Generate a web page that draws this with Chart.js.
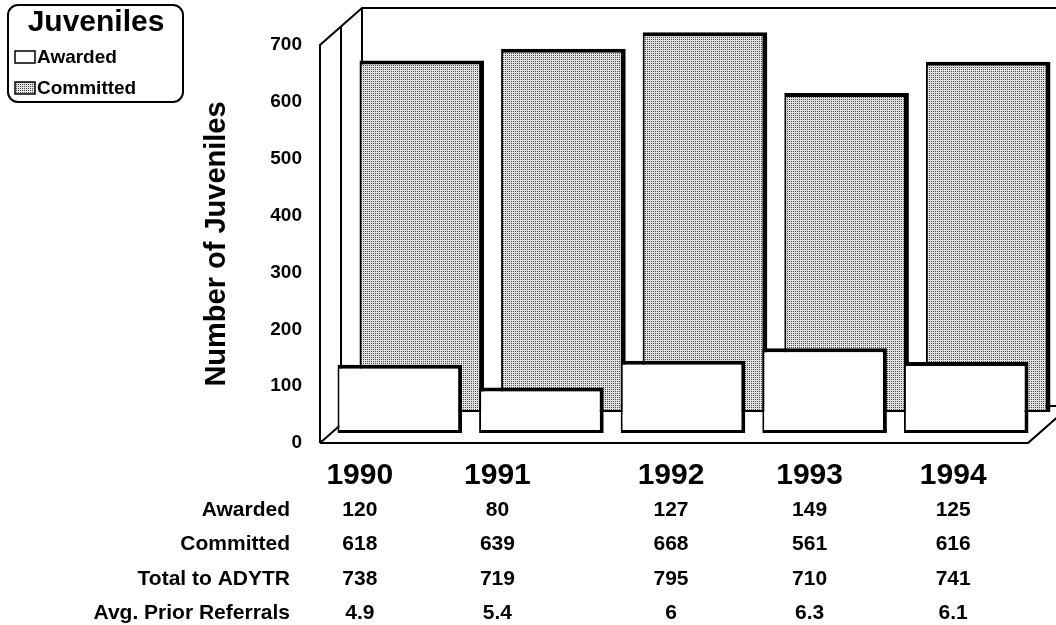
<!DOCTYPE html>
<html lang="en">
<head>
    <meta charset="UTF-8">
    <title>Juveniles Awarded and Committed</title>
    <script src="https://cdn.jsdelivr.net/npm/chart.js"></script>
    <style>
        body {
            margin: 0;
            padding: 0;
            background: #fff;
        }
        .wrap {
            width: 1056px;
            height: 625px;
        }
    </style>
</head>
<body>

    <div class="wrap">
        <canvas id="juvChart" width="1056" height="625"></canvas>
    </div>

    <script>
        const years = ['1990', '1991', '1992', '1993', '1994'];
        const awarded = [120, 80, 127, 149, 125];
        const committed = [618, 639, 668, 561, 616];
        const totalToADYTR = [738, 719, 795, 710, 741];
        const avgPriorReferrals = ['4.9', '5.4', '6', '6.3', '6.1'];
        const rowLabels = ['Awarded', 'Committed', 'Total to ADYTR', 'Avg. Prior Referrals'];

        // layout bits (not data)
        const planeShift = [[9, -10], [31, -31]];   // awarded row, committed row (fake depth)
        const wallDepth = [42, -37];
        const colNudge = [-31, -35, -3, -6, -4];
        const FONT = "'Liberation Sans', Arial, sans-serif";

        Chart.defaults.font.family = FONT;
        Chart.defaults.color = '#000';

        const canvas = document.getElementById('juvChart');
        const ctx = canvas.getContext('2d');

        // dotted grey fill like the printed original
        function stipple() {
            const c = document.createElement('canvas');
            c.width = 2;
            c.height = 2;
            const g = c.getContext('2d');
            g.fillStyle = '#e2e2e2';
            g.fillRect(0, 0, 2, 2);
            g.fillStyle = '#4a4a4a';
            g.fillRect(0, 0, 1, 1);
            return ctx.createPattern(c, 'repeat');
        }
        const dots = stipple();

        // shift each series to its own depth plane
        const depthShift = {
            id: 'depthShift',
            beforeDatasetDraw(chart, args) {
                const s = planeShift[args.index];
                chart.ctx.save();
                chart.ctx.translate(s[0], s[1]);
            },
            afterDatasetDraw(chart) {
                chart.ctx.restore();
            }
        };

        // the 3d box: back wall, side wall, floor
        const frame = {
            id: 'frame',
            beforeDatasetsDraw(chart) {
                const c = chart.ctx;
                const x = chart.scales.x, y = chart.scales.y;
                const L = x.left, R = x.right;
                const B = y.getPixelForValue(0), T = y.getPixelForValue(700);
                const dx = wallDepth[0], dy = wallDepth[1];
                c.save();
                c.strokeStyle = '#000';
                c.lineWidth = 2;
                c.beginPath();
                c.moveTo(L, B); c.lineTo(L, T);
                c.lineTo(L + dx, T + dy);
                c.lineTo(chart.width, T + dy);
                c.moveTo(L + dx, T + dy); c.lineTo(L + dx, B + dy);
                c.lineTo(R + dx, B + dy);
                c.moveTo(L, B); c.lineTo(L + dx, B + dy);
                c.moveTo(L, B); c.lineTo(R, B); c.lineTo(R + dx, B + dy);
                c.moveTo(L + dx / 2, T + dy / 2); c.lineTo(L + dx / 2, B + dy / 2);
                c.stroke();
                c.restore();
            }
        };

        // legend box and data table
        const extras = {
            id: 'extras',
            afterDraw(chart) {
                const c = chart.ctx;
                const x = chart.scales.x;
                const ds = chart.data.datasets;
                c.save();
                c.fillStyle = '#000';
                c.strokeStyle = '#000';

                // legend
                c.lineWidth = 2;
                c.beginPath();
                c.roundRect(8, 5, 175, 97, 10);
                c.stroke();
                c.textAlign = 'center';
                c.textBaseline = 'middle';
                c.font = 'bold 30px ' + FONT;
                c.fillText('Juveniles', 96, 23);
                c.textAlign = 'left';
                c.font = 'bold 19px ' + FONT;
                ds.forEach((d, i) => {
                    const yy = 57 + i * 31;
                    c.fillStyle = d.backgroundColor;
                    c.fillRect(15, yy - 6, 20, 12);
                    c.lineWidth = 1.5;
                    c.strokeRect(15, yy - 6, 20, 12);
                    c.fillStyle = '#000';
                    c.fillText(d.label, 37, yy + 1);
                });

                // table
                const rows = [awarded, committed, totalToADYTR, avgPriorReferrals];
                c.textBaseline = 'middle';
                c.font = 'bold 30px ' + FONT;
                c.textAlign = 'center';
                years.forEach((yr, i) => {
                    c.fillText(yr, x.getPixelForValue(i) + colNudge[i], 476);
                });
                c.font = 'bold 21px ' + FONT;
                rows.forEach((row, r) => {
                    const yy = 510 + r * 34.5;
                    c.textAlign = 'right';
                    c.fillText(rowLabels[r], 290, yy);
                    c.textAlign = 'center';
                    row.forEach((v, i) => {
                        c.fillText(String(v), x.getPixelForValue(i) + colNudge[i], yy);
                    });
                });
                c.restore();
            }
        };

        new Chart(ctx, {
            type: 'bar',
            data: {
                labels: years,
                datasets: [
                    {
                        label: 'Awarded',
                        data: awarded,
                        backgroundColor: '#ffffff',
                        borderColor: '#000',
                        borderWidth: { top: 4, right: 4, bottom: 3, left: 2 },
                        borderSkipped: false,
                        grouped: false,
                        barPercentage: 0.88,
                        categoryPercentage: 1,
                        clip: false
                    },
                    {
                        label: 'Committed',
                        data: committed,
                        backgroundColor: dots,
                        borderColor: '#000',
                        borderWidth: { top: 4, right: 5, bottom: 2, left: 2 },
                        borderSkipped: false,
                        grouped: false,
                        barPercentage: 0.88,
                        categoryPercentage: 1,
                        clip: false
                    }
                ]
            },
            options: {
                responsive: false,
                animation: false,
                layout: { padding: { left: 200, top: 45, right: 28, bottom: 182 } },
                plugins: {
                    legend: { display: false },
                    tooltip: { enabled: false }
                },
                scales: {
                    x: { display: false },
                    y: {
                        min: 0,
                        max: 700,
                        ticks: {
                            stepSize: 100,
                            color: '#000',
                            padding: 18,
                            font: { size: 19, weight: 'bold' }
                        },
                        grid: { display: false, drawTicks: false },
                        border: { display: false },
                        title: {
                            display: true,
                            text: 'Number of Juveniles',
                            color: '#000',
                            padding: 0,
                            font: { size: 29, weight: 'bold' }
                        },
                        afterFit(scale) {
                            scale.width = 120;
                        }
                    }
                }
            },
            plugins: [frame, depthShift, extras]
        });
    </script>

</body>
</html>
